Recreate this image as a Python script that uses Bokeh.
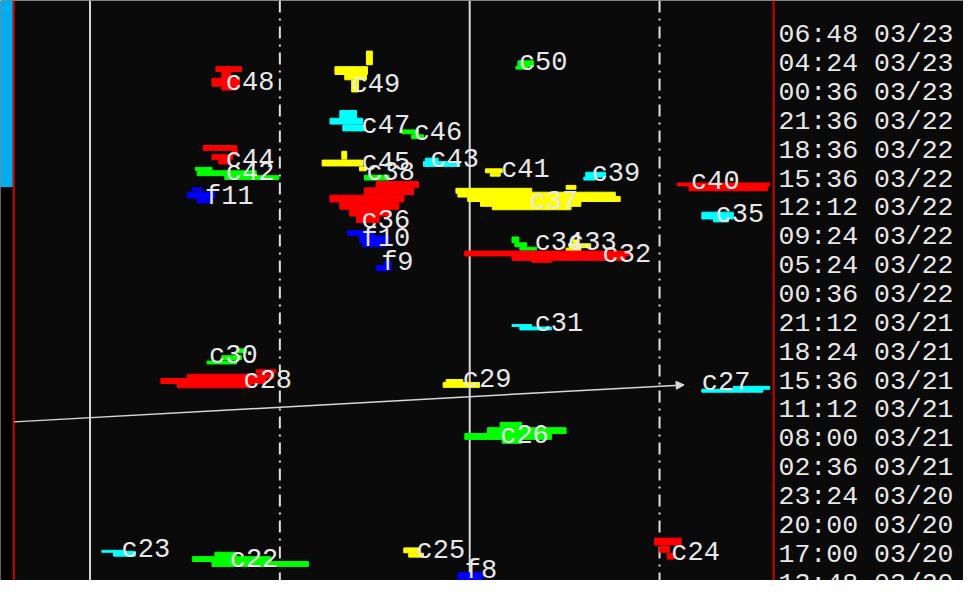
from bokeh.plotting import figure
from bokeh.models import ColumnDataSource, Arrow, NormalHead, LabelSet
from bokeh.core.properties import value
from bokeh.embed import file_html
from bokeh.resources import INLINE

# ---------------- data (screen units) ----------------
# time labels of the image rows (right-hand column), top to bottom
time_labels = ["06:48 03/23", "04:24 03/23", "00:36 03/23", "21:36 03/22",
               "18:36 03/22", "15:36 03/22", "12:12 03/22", "09:24 03/22",
               "05:24 03/22", "00:36 03/22", "21:12 03/21", "18:24 03/21",
               "15:36 03/21", "11:12 03/21", "08:00 03/21", "02:36 03/21",
               "23:24 03/20", "20:00 03/20", "17:00 03/20", "13:48 03/20"]
row_first = 44.0
row_step = 29.65

# features: name, colour class, label position (left, baseline)
feat_names = ["c48", "c49", "c50", "c47", "c46", "c44", "c45", "c43", "c41",
              "c39", "c42", "c38", "c40", "f11", "c37", "c36", "c35", "f10",
              "c34", "c33", "c32", "f9", "c31", "c30", "c28", "c29", "c27",
              "c26", "c23", "c22", "c25", "c24", "f8"]
feat_kind = ["red", "yellow", "green", "cyan", "green", "red", "yellow", "cyan",
             "yellow", "cyan", "green", "green", "red", "blue", "yellow", "red",
             "cyan", "blue", "green", "yellow", "red", "blue", "cyan", "green",
             "red", "yellow", "cyan", "green", "cyan", "green", "yellow", "red",
             "blue"]
label_x = [229, 357, 527, 367, 420, 229, 367, 437, 509, 601, 229, 372, 702,
           208, 538, 367, 727, 367, 543, 577, 612, 387, 543, 212, 247, 470,
           713, 508, 123, 233, 423, 682, 472]
label_y = [93, 95, 72, 137, 144, 172, 175, 172, 182, 187, 185, 185, 195, 210,
           215, 235, 229, 253, 257, 257, 270, 278, 341, 374, 399, 398, 401,
           456, 573, 583, 574, 576, 594]

# blob outlines as horizontal runs: feature, row centre, left, right, thickness
seg_feat = ["c48", "c48", "c48", "c48",
            "c49", "c49", "c49", "c49",
            "c50", "c50",
            "c47", "c47", "c47",
            "c46", "c46",
            "c44", "c44", "c44", "c44",
            "c45", "c45", "c45",
            "c43", "c43",
            "c41", "c41",
            "c39", "c39",
            "c42", "c42", "c42",
            "c38",
            "c40", "c40",
            "f11", "f11", "f11",
            "c37", "c37", "c37", "c37", "c37", "c37",
            "c36", "c36", "c36", "c36", "c36", "c36",
            "c35", "c35",
            "f10", "f10", "f10",
            "c34", "c34", "c34",
            "c33", "c33", "c33",
            "c32", "c32", "c32",
            "f9", "f9",
            "c31", "c31",
            "c30", "c30", "c30",
            "c28", "c28", "c28", "c28",
            "c29", "c29",
            "c27", "c27",
            "c26", "c26", "c26", "c26",
            "c23", "c23",
            "c22", "c22", "c22",
            "c25", "c25",
            "c24", "c24", "c24",
            "f8"]
seg_y = [70.5, 76.5, 84, 90,
         59, 72, 79, 88,
         65, 69,
         117, 124, 131,
         135, 140,
         151.5, 156, 161, 166,
         159, 167, 173,
         164, 168,
         175, 179,
         179, 183,
         173, 177.5, 182,
         182,
         189, 193,
         194, 200, 206,
         192, 195.5, 199.5, 204, 209, 213,
         189, 196, 203.5, 211, 218, 225,
         221, 226,
         239, 245.5, 251,
         246, 251, 255,
         248, 252, 256,
         260, 265, 268,
         270, 275,
         334, 337,
         360, 367, 372,
         381, 386, 391, 396,
         391, 395,
         398, 401,
         436, 442, 448, 453,
         566, 568.5,
         569, 574, 579,
         565, 570,
         556, 564, 571,
         592]
seg_x0 = [219, 225, 215, 225,
          372, 340, 350, 357,
          526, 524,
          345, 335, 348,
          408, 418,
          206, 236, 215, 222,
          347, 327, 365,
          432, 430,
          493, 498,
          595, 593,
          198, 200, 228,
          370,
          688, 700,
          195, 190, 200,
          575, 463, 465, 475, 488, 500,
          382, 370, 335, 345, 355, 362,
          713, 725,
          353, 365, 368,
          520, 523, 528,
          582, 578, 575,
          472, 520, 540,
          390, 382,
          520, 528,
          240, 225, 210,
          260, 190, 163, 180,
          453, 450,
          745, 713,
          508, 495, 472, 510,
          103, 115,
          218, 195, 215,
          410, 415,
          665, 670, 678,
          465]
seg_x1 = [245, 234, 243, 240,
          378, 373, 372, 364,
          542, 536,
          362, 368, 370,
          425, 430,
          240, 241, 236, 234,
          352, 368, 372,
          445, 467,
          510, 508,
          615, 605,
          215, 260, 283,
          395,
          782, 780,
          205, 218, 215,
          585, 540, 625, 630, 590, 580,
          425, 420, 410, 405, 395, 385,
          745, 740,
          380, 395, 392,
          527, 535, 545,
          588, 600, 590,
          640, 635, 560,
          397, 397,
          540, 560,
          250, 245, 240,
          280, 278, 270, 255,
          470, 487,
          782, 775,
          530, 575, 560, 530,
          125, 137,
          240, 275, 313,
          425, 430,
          692, 680, 685,
          490]
seg_h = [5, 7, 8, 4,
         14, 8, 5, 12,
         6, 3,
         8, 6, 6,
         4, 4,
         5, 5, 5, 4,
         8, 6, 4,
         4, 5,
         4, 3,
         5, 3,
         3, 5, 4,
         5,
         3, 5,
         3, 6, 4,
         4, 5, 5, 5, 5, 4,
         6, 7, 7, 7, 7, 6,
         7, 3,
         5, 7, 4,
         6, 4, 3,
         4, 4, 3,
         5, 4, 2,
         4, 5,
         2, 3,
         4, 4, 3,
         3, 4, 5, 4,
         3, 5,
         3, 3,
         5, 6, 6, 4,
         2, 5,
         4, 5, 5,
         5, 4,
         7, 6, 6,
         8]

# reference lines
solid_x = [91, 477]
dashdot_x = [284, 670]
track_x = [14, 695]
track_y = [433, 395]

# ---------------- styling ----------------
palette = {"red": "#ff0000", "yellow": "#ffff00", "green": "#00ff00",
           "cyan": "#00ffff", "blue": "#0000ff"}
kind_of = dict(zip(feat_names, feat_kind))
seg_color = [palette[kind_of[f]] for f in seg_feat]

W_REF, H_REF = 979, 596
p = figure(width=963, height=580, x_range=(0, W_REF), y_range=(H_REF, 0),
           x_axis_type=None, y_axis_type=None, min_border=0,
           toolbar_location=None, output_backend="svg",
           background_fill_color="#0a0a0a", border_fill_color="#0a0a0a",
           outline_line_color=None)
p.grid.visible = False

# left status strip
p.quad(left=[0, 0], right=[12.5, 12.5], top=[0, 192], bottom=[192, H_REF],
       fill_color=["#00aeef", "#000000"], line_color=None)
# frame lines (red)
p.segment(x0=[13.5, 786], y0=[0, 0], x1=[13.5, 786], y1=[H_REF, H_REF],
          line_color="#d40000", line_width=2)

# vertical guide lines
p.segment(x0=solid_x, y0=[0] * 2, x1=solid_x, y1=[H_REF] * 2,
          line_color="#d8d8d8", line_width=2)
p.segment(x0=dashdot_x, y0=[0] * 2, x1=dashdot_x, y1=[H_REF] * 2,
          line_color="#e0e0e0", line_width=2, line_dash="12 6 2 6")

# blobs
src = ColumnDataSource(dict(y=seg_y, left=seg_x0, right=seg_x1, h=seg_h,
                            color=seg_color))
p.hbar(y="y", left="left", right="right", height="h", color="color",
       source=src)

# track line with arrow
p.add_layout(Arrow(x_start=track_x[0], y_start=track_y[0],
                   x_end=track_x[1], y_end=track_y[1],
                   line_color="#d8d8d8", line_width=1.5,
                   end=NormalHead(size=8, fill_color="#d8d8d8",
                                  line_color="#d8d8d8")))

# feature labels
feat_src = ColumnDataSource(dict(x=label_x, y=label_y, text=feat_names))
p.add_layout(LabelSet(x="x", y="y", text="text", source=feat_src,
                      text_color="#e8e8e8", text_font=value("Liberation Mono"),
                      text_font_size="27px", text_baseline="alphabetic",
                      text_align="left", y_offset=1))

# time labels
row_y = [row_first + row_step * i for i in range(len(time_labels))]
time_src = ColumnDataSource(dict(x=[791] * len(time_labels), y=row_y,
                                 text=time_labels))
p.add_layout(LabelSet(x="x", y="y", text="text", source=time_src,
                      text_color="#e8e8e8", text_font=value("Liberation Mono"),
                      text_font_size="26.5px", text_baseline="alphabetic",
                      text_align="left", y_offset=1))

open("out.html", "w").write(file_html(p, INLINE))
